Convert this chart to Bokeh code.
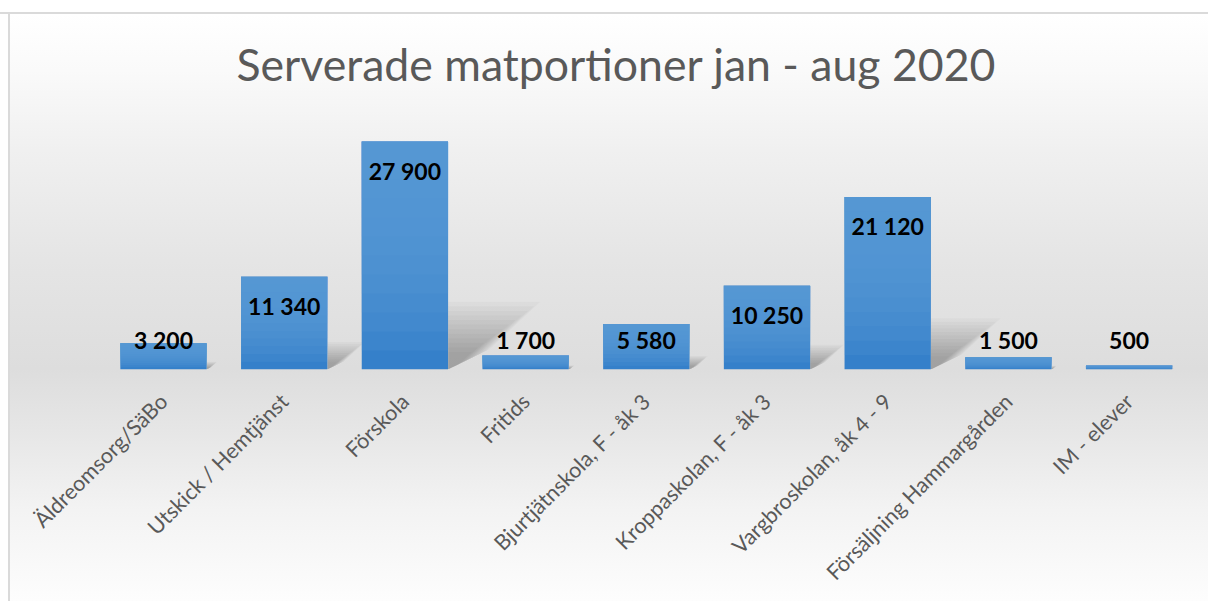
import numpy as np
from math import pi
from bokeh.plotting import figure
from bokeh.models import Range1d, FixedTicker
from bokeh.core.properties import value
from bokeh.embed import file_html
from bokeh.resources import INLINE

# ---------------- data ----------------
title_text = "Serverade matportioner jan - aug 2020"
categories = [
    "Äldreomsorg/SäBo",
    "Utskick / Hemtjänst",
    "Förskola",
    "Fritids",
    "Bjurtjätnskola, F - åk 3",
    "Kroppaskolan, F - åk 3",
    "Vargbroskolan, åk 4 - 9",
    "Försäljning Hammargården",
    "IM - elever",
]
portions = [3200, 11340, 27900, 1700, 5580, 10250, 21120, 1500, 500]

# ---------------- layout ----------------
W, H = 1208, 601
TOP, BASE = 108, 369          # frame top / baseline (canvas px)
PX_PER_CAT = 120.7
FIRST_CENTER = 163
PX_PER_UNIT = 0.00817
BAR_W = 0.715
FONT = "Lato"

idx = np.arange(len(categories))
vals = np.array(portions, dtype=float)

y_end = (BASE - TOP) / PX_PER_UNIT
x_start = -FIRST_CENTER / PX_PER_CAT
x_end = (W - FIRST_CENTER) / PX_PER_CAT

p = figure(
    width=W, height=H,
    x_range=Range1d(x_start, x_end), y_range=Range1d(0, y_end),
    output_backend="svg", toolbar_location=None, y_axis_location=None,
    min_border_left=0, min_border_right=0,
    min_border_top=TOP, min_border_bottom=H - BASE,
)
p.background_fill_color = None
p.border_fill_color = None
p.outline_line_color = None
p.grid.visible = False
p.styles = {
    "background": (
        "linear-gradient(to bottom, #ffffff 0px, #ffffff 12px, #dadada 12px, #dadada 14px, transparent 14px),"
        "linear-gradient(to right, #ffffff 0px, #ffffff 8px, #dadada 8px, #dadada 10px, transparent 10px),"
        "linear-gradient(to bottom, #ffffff 14px, #fafafa 70px, #f0f0f0 150px, #e5e5e5 260px,"
        " #dddddd 369px, #e6e6e6 430px, #f3f3f3 510px, #fdfdfd 601px)"
    )
}

# title
p.title.text = title_text
p.title.align = "left"
p.title.offset = 236
p.title.text_font = FONT
p.title.text_font_style = "normal"
p.title.text_font_size = "44.6px"
p.title.text_color = "#595959"
p.title.standoff = 37

# x axis
ax = p.xaxis[0]
ax.ticker = FixedTicker(ticks=list(idx))
ax.major_label_overrides = {int(i): c for i, c in zip(idx, categories)}
ax.major_label_orientation = pi / 4
ax.major_label_text_font = FONT
ax.major_label_text_font_size = "21.5px"
ax.major_label_text_color = "#595959"
ax.major_label_standoff = 22
ax.axis_line_color = None
ax.major_tick_line_color = None
ax.minor_tick_line_color = None

# soft perspective shadows (derived from the data)
xr = idx + BAR_W / 2
dx = 0.3 * vals * PX_PER_UNIT / PX_PER_CAT
dy = 0.22 * vals
for s in np.linspace(0.35, 1.35, 12):
    xs = [[x0, x0, x0 + s * ddx, x0 + 0.45 * s * ddx] for x0, ddx in zip(xr, dx)]
    ys = [[0, s * ddy, s * ddy, 0.3 * s * ddy] for ddy in dy]
    p.patches(xs, ys, fill_color="black", fill_alpha=0.022, line_color=None)

# bars with a vertical gradient
p.vbar(x=idx, top=vals, width=BAR_W, fill_color="#3580CA", line_color=None)
N = 12
for k in range(1, N):
    p.vbar(x=idx, bottom=vals * k / N, top=vals, width=BAR_W,
           fill_color="#5B9BD5", fill_alpha=0.2, line_color=None)

# data labels
labels = [f"{int(v):,}".replace(",", " ") for v in portions]
label_y = np.maximum(vals - 3550, 3550)
p.text(x=idx, y=label_y, text=labels, text_align="center", text_baseline="middle",
       text_font=value(FONT), text_font_style="bold", text_font_size="23px",
       text_color="black")

open("out.html", "w").write(file_html(p, INLINE))
